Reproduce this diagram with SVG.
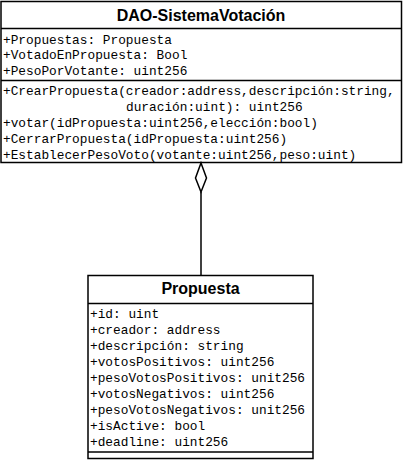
<svg xmlns="http://www.w3.org/2000/svg" width="404" height="460" viewBox="0 0 404 460">
<style>
.box{fill:#fff;stroke:#000;stroke-width:1.5}
.div{stroke:#000;stroke-width:1.5}
.title{font-family:"Liberation Sans",Arial,sans-serif;font-weight:bold;font-size:16px;text-anchor:middle;fill:#000}
.mono{font-family:"Liberation Mono","Courier New",monospace;font-size:12.8px;fill:#000}
.conn{stroke:#000;stroke-width:1.5;fill:none}
</style>
<rect width="404" height="460" fill="#fff"/>
<g id="dao">
<rect class="box" x="1" y="1.5" width="400.5" height="161"/>
<line class="div" x1="1" y1="28.5" x2="401.5" y2="28.5"/>
<line class="div" x1="1" y1="80.5" x2="401.5" y2="80.5"/>
<text class="title" x="201" y="21">DAO-SistemaVotación</text>
<text class="mono" x="3" y="44">+Propuestas: Propuesta</text>
<text class="mono" x="3" y="59">+VotadoEnPropuesta: Bool</text>
<text class="mono" x="3" y="75">+PesoPorVotante: uint256</text>
<text class="mono" x="3" y="95">+CrearPropuesta(creador:address,descripción:string,</text>
<text class="mono" x="126" y="111">duración:uint): uint256</text>
<text class="mono" x="3" y="127">+votar(idPropuesta:uint256,elección:bool)</text>
<text class="mono" x="3" y="142.5">+CerrarPropuesta(idPropuesta:uint256)</text>
<text class="mono" x="3" y="159">+EstablecerPesoVoto(votante:uint256,peso:uint)</text>
</g>
<g id="propuesta">
<rect class="box" x="88" y="275.5" width="225" height="183"/>
<line class="div" x1="88" y1="303.5" x2="313" y2="303.5"/>
<line class="div" x1="88" y1="452" x2="313" y2="452"/>
<text class="title" x="200.5" y="294">Propuesta</text>
<text class="mono" x="90" y="318">+id: uint</text>
<text class="mono" x="90" y="334">+creador: address</text>
<text class="mono" x="90" y="350">+descripción: string</text>
<text class="mono" x="90" y="366">+votosPositivos: uint256</text>
<text class="mono" x="90" y="382">+pesoVotosPositivos: unit256</text>
<text class="mono" x="90" y="398">+votosNegativos: uint256</text>
<text class="mono" x="90" y="413.5">+pesoVotosNegativos: unit256</text>
<text class="mono" x="90" y="429.5">+isActive: bool</text>
<text class="mono" x="90" y="445.5">+deadline: uint256</text>
</g>
<g id="connectors">
<line class="conn" x1="201" y1="192" x2="201" y2="275.5"/>
<polygon class="conn" fill="#fff" points="201,163 206.5,178 201,192 195.5,178" style="fill:#fff"/>
</g>
</svg>
